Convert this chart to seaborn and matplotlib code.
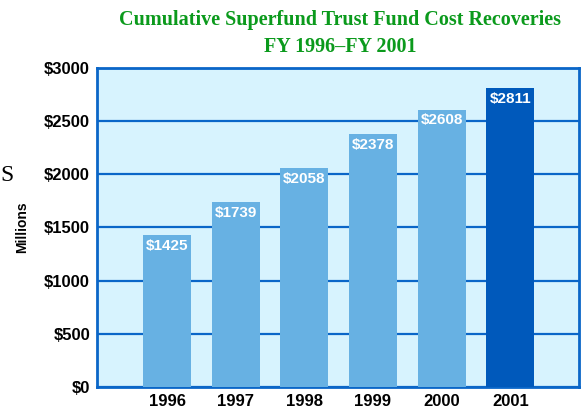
import pandas as pd
import matplotlib
matplotlib.use('Agg')
import matplotlib.pyplot as plt
import seaborn as sns

years = ['1996', '1997', '1998', '1999', '2000', '2001']
recoveries = [1425, 1739, 2058, 2378, 2608, 2811]
bar_colors = ['#67b1e3', '#67b1e3', '#67b1e3', '#67b1e3', '#67b1e3', '#0059bb']
yticks = [0, 500, 1000, 1500, 2000, 2500, 3000]

df = pd.DataFrame({'Year': years, 'Recoveries': recoveries})

sns.set_style('white')
plt.rcParams['font.family'] = ['Liberation Sans', 'DejaVu Sans']
plt.rcParams['text.color'] = 'black'
plt.rcParams['xtick.color'] = 'black'
plt.rcParams['ytick.color'] = 'black'
plt.rcParams['axes.labelcolor'] = 'black'

blue = '#0a66c8'

fig = plt.figure(figsize=(5.83, 4.09), dpi=100)
ax = fig.add_axes([0.1664, 0.0538, 0.8266, 0.78])
ax.set_facecolor('#d7f3fe')

sns.barplot(data=df, x='Year', y='Recoveries', hue='Year', palette=bar_colors,
            width=0.7, legend=False, ax=ax, saturation=1, zorder=3,
            edgecolor='none', linewidth=0)

ax.set_xlim(-1.02, 6.0)
ax.set_ylim(0, 3000)
ax.set_yticks(yticks)
ax.set_yticklabels(['$' + str(v) for v in yticks], fontsize=12, fontweight='bold')
ax.set_xticks(range(len(years)))
ax.set_xticklabels(years, fontsize=12, fontweight='bold')
ax.tick_params(length=0, pad=5)
ax.grid(axis='y', color=blue, linewidth=1.6, zorder=1)
ax.set_axisbelow(True)
for s in ax.spines.values():
    s.set_color(blue)
    s.set_linewidth(2)

ax.set_xlabel('')
ax.set_ylabel('Millions', fontsize=10, fontweight='bold', labelpad=11)

for i, v in enumerate(recoveries):
    ax.annotate('$' + str(v), (i, v), xytext=(0, -2.5), textcoords='offset points',
                ha='center', va='top', color='white', fontsize=11, fontweight='bold',
                zorder=5)

fig.text(0.583, 0.950, 'Cumulative Superfund Trust Fund Cost Recoveries',
         ha='center', va='center', color='#0b9a1c', fontsize=14.5, fontweight='bold',
         family='Liberation Serif')
fig.text(0.583, 0.886, 'FY 1996\u2013FY 2001',
         ha='center', va='center', color='#0b9a1c', fontsize=14.5, fontweight='bold',
         family='Liberation Serif')
fig.text(0.0, 0.57, 'S', ha='left', va='center', fontsize=17,
         family='Liberation Serif')

fig.savefig('out.png', dpi=100)
